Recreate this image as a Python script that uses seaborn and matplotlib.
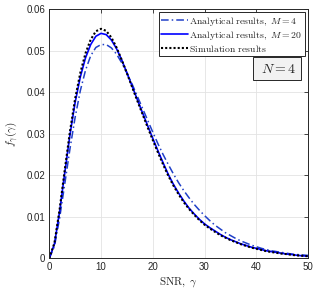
import numpy as np
import pandas as pd
import matplotlib
matplotlib.use("Agg")
import matplotlib.pyplot as plt
import seaborn as sns

# values (SNR grid 0..50, step 1)
snr = list(range(0, 51))

pdf_m4 = [0.0, 0.0029, 0.0097, 0.0180, 0.0264, 0.0340, 0.0404, 0.0453, 0.0488, 0.0508,
          0.0515, 0.0515, 0.0507, 0.0492, 0.0471, 0.0447, 0.0420, 0.0391, 0.0362, 0.0333,
          0.0304, 0.0276, 0.0250, 0.0226, 0.0203, 0.0182, 0.0163, 0.0146, 0.0130, 0.0116,
          0.0103, 0.0091, 0.0080, 0.0071, 0.0062, 0.0055, 0.0048, 0.0042, 0.0037, 0.0032,
          0.0028, 0.0024, 0.0021, 0.0018, 0.0016, 0.0014, 0.0012, 0.0010, 0.0009, 0.0008,
          0.0007]

pdf_m20 = [0.0, 0.0035, 0.0113, 0.0207, 0.0298, 0.0376, 0.0437, 0.0483, 0.0515, 0.0535,
           0.0542, 0.0539, 0.0526, 0.0505, 0.0478, 0.0447, 0.0415, 0.0383, 0.0351, 0.0320,
           0.0289, 0.0259, 0.0230, 0.0202, 0.0178, 0.0157, 0.0138, 0.0121, 0.0107, 0.0094,
           0.0083, 0.0074, 0.0066, 0.0058, 0.0051, 0.0045, 0.0040, 0.0035, 0.0031, 0.0027,
           0.0024, 0.0021, 0.0018, 0.0016, 0.0014, 0.0012, 0.0010, 0.0009, 0.0007, 0.0006,
           0.0005]

pdf_sim = [0.0, 0.0037, 0.0118, 0.0214, 0.0306, 0.0385, 0.0447, 0.0494, 0.0527, 0.0547,
           0.0553, 0.0548, 0.0532, 0.0508, 0.0478, 0.0446, 0.0413, 0.0380, 0.0348, 0.0316,
           0.0285, 0.0255, 0.0226, 0.0199, 0.0175, 0.0154, 0.0135, 0.0119, 0.0105, 0.0092,
           0.0081, 0.0072, 0.0064, 0.0056, 0.0050, 0.0044, 0.0039, 0.0034, 0.0030, 0.0026,
           0.0023, 0.0020, 0.0017, 0.0015, 0.0013, 0.0011, 0.0010, 0.0008, 0.0007, 0.0006,
           0.0005]

labels = [r"$\mathrm{Analytical\ results,}\ M=4$",
          r"$\mathrm{Analytical\ results,}\ M=20$",
          r"$\mathrm{Simulation\ results}$"]

sns.set_theme(style="whitegrid")
plt.rcParams["font.family"] = ["Liberation Sans", "DejaVu Sans"]
plt.rcParams["mathtext.fontset"] = "cm"

df = pd.DataFrame({"snr": snr, "m4": pdf_m4, "m20": pdf_m20, "sim": pdf_sim})

fig = plt.figure(figsize=(3.19, 2.95), dpi=100)
ax = fig.add_axes([0.1545, 0.1244, 0.811, 0.8441])

sns.lineplot(data=df, x="snr", y="m4", ax=ax, color="#2040c8", lw=1.1,
             linestyle=(0, (5, 2, 1, 2)), label=labels[0])
sns.lineplot(data=df, x="snr", y="m20", ax=ax, color="#0000ff", lw=1.2,
             label=labels[1])
sns.lineplot(data=df, x="snr", y="sim", ax=ax, color="black", lw=1.5,
             linestyle=(0, (1, 1)), label=labels[2])

ax.set_xlim(0, 50)
ax.set_ylim(0, 0.06)
ax.set_xticks([0, 10, 20, 30, 40, 50])
ax.set_yticks([0, 0.01, 0.02, 0.03, 0.04, 0.05, 0.06])
ax.set_yticklabels(["0", "0.01", "0.02", "0.03", "0.04", "0.05", "0.06"])
ax.tick_params(labelsize=7, direction="in", length=3, width=0.6,
               top=True, right=True, colors="#262626", pad=3)
ax.grid(True, color="#e3e3e3", lw=0.6)
for s in ax.spines.values():
    s.set_color("#262626")
    s.set_linewidth(0.7)

ax.set_xlabel(r"$\mathrm{SNR},\ \gamma$", fontsize=8, color="#262626", labelpad=2)
ax.set_ylabel(r"$f_{\gamma}(\gamma)$", fontsize=8, color="#262626", labelpad=4)

leg = ax.legend(loc="upper right", fontsize=7, frameon=True, fancybox=False,
                edgecolor="#262626", framealpha=1, handlelength=2.7,
                handletextpad=0.2, borderpad=0.25, labelspacing=0.1,
                borderaxespad=0.3)
leg.get_frame().set_linewidth(0.7)

ax.text(0.880, 0.762, r"$\ N=4\ $", transform=ax.transAxes, ha="center", va="center",
        fontsize=10, bbox=dict(boxstyle="square,pad=0.3", fc="#f2f2f2",
                               ec="#262626", lw=0.7))

fig.savefig("out.png", dpi=100)
